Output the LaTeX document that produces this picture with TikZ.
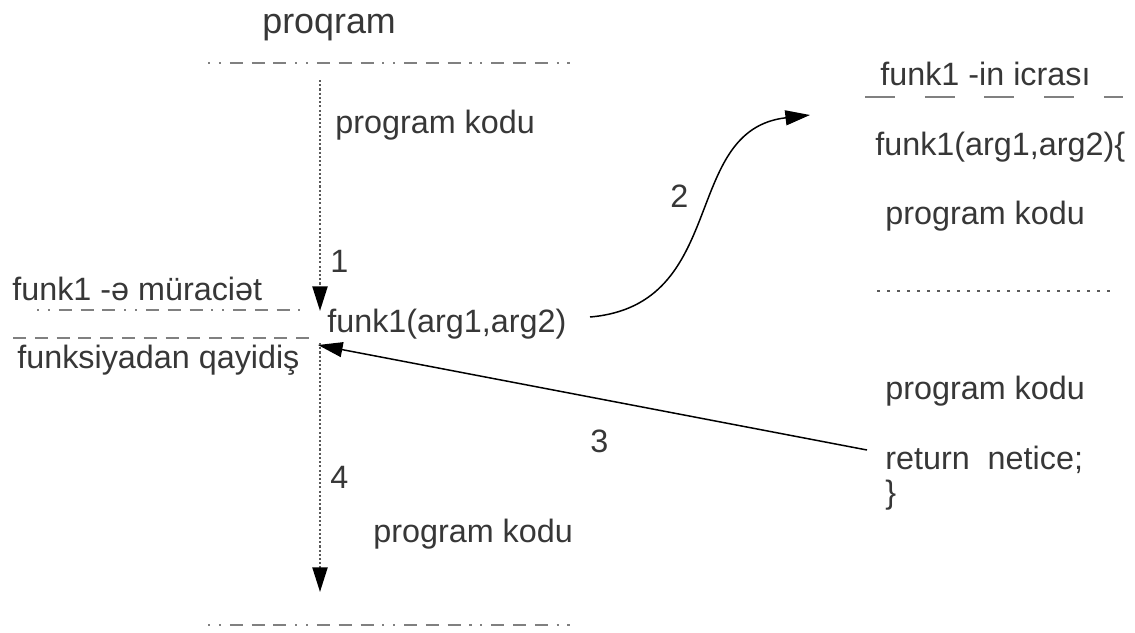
\documentclass[tikz,border=0pt]{standalone}
\usepackage{fontspec}
\setmainfont{Liberation Sans}
\usetikzlibrary{arrows.meta}
\definecolor{txtgray}{RGB}{55,55,55}
\definecolor{linegray}{RGB}{128,128,128}
\definecolor{dotgray}{RGB}{90,90,90}
\begin{document}
\begin{tikzpicture}[x=0.02cm,y=-0.02cm,
    lbl/.style={anchor=base west, inner sep=0pt, text=txtgray, font=\fontsize{18.4}{22}\selectfont},
    sepline/.style={draw=linegray, line width=1.6pt, dash pattern=on 7.4pt off 5pt on 7.4pt off 5pt on 7.4pt off 5pt on 1.2pt off 5pt on 1.2pt off 5pt, dash phase=37.2pt},
    retline/.style={draw=linegray, line width=1.6pt, dash pattern=on 7.4pt off 5pt},
    icraline/.style={draw=linegray, line width=1.6pt, dash pattern=on 17pt off 17pt},
    dotline/.style={draw=dotgray, line width=1.5pt, dash pattern=on 1.5pt off 4.2pt},
    vdots/.style={draw=dotgray, line width=1.3pt, dash pattern=on 1.2pt off 1.2pt},
    tip/.style={-{Triangle[length=14pt,width=8.5pt,color=black]}},
    flow/.style={draw=black, line width=0.85pt, tip}]
  \useasboundingbox (0,0) rectangle (1135,632);
  % left: the program
  \node[lbl, font=\fontsize{20.4}{24}\selectfont] (title) at (262,33) {proqram};
  \draw[sepline] (208,63) -- (573,63);
  \node[lbl] (code1) at (335,133) {program kodu};
  \node[lbl] (n1) at (330,272) {1};
  \node[lbl] (callname) at (12,300) {funk1 -ə müraciət};
  \draw[sepline] (37,310) -- (300,310);
  \node[lbl] (call) at (327,332) {funk1(arg1,arg2)};
  \draw[retline] (13,338) -- (318,338);
  \node[lbl] (retname) at (17,368) {funksiyadan qayidiş};
  \node[lbl] (n4) at (330,488) {4};
  \node[lbl] (code2) at (373,542) {program kodu};
  \draw[sepline] (208,625) -- (573,625);
  % right: the function
  \node[lbl] (fname) at (880,85) {funk1 -in icrası};
  \draw[icraline] (865,97) -- (1123,97);
  \node[lbl] (fhead) at (875,155) {funk1(arg1,arg2)\{};
  \node[lbl] (fcode1) at (885,224) {program kodu};
  \draw[dotline] (877,291) -- (1117,291);
  \node[lbl] (fcode2) at (885,399) {program kodu};
  \node[lbl] (fret) at (885,469) {return\ \ netice;};
  \node[lbl] (fend) at (885,503) {\}};
  \node[lbl] (n2) at (670,207) {2};
  \node[lbl] (n3) at (590,452) {3};
  % ends of the arrows
  \coordinate (v1top) at (320,80);
  \coordinate (v1end) at (320,311);
  \coordinate (v2top) at (320,343);
  \coordinate (v2end) at (320,592);
  \coordinate (gostart) at (590,317);
  \coordinate (goend) at (810,115);
  \coordinate (backstart) at (867,450);
  \coordinate (backend) at (318,345);
  \draw[vdots, tip] (v1top) -- (v1end);% step 1
  \draw[flow] (gostart) .. controls (730,305) and (680,130) .. (goend);% step 2
  \draw[flow] (backstart) -- (backend);% step 3
  \draw[vdots, tip] (v2top) -- (v2end);% step 4
\end{tikzpicture}
\end{document}
